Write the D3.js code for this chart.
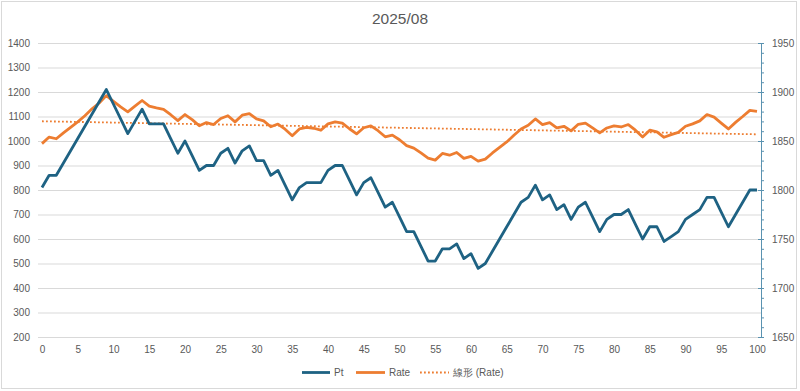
<!DOCTYPE html>
<html><head><meta charset="utf-8">
<script src="https://cdn.jsdelivr.net/npm/d3@7"></script>
<style>body{margin:0;background:#fff}svg{display:block}</style>
</head><body><svg id="c" width="800" height="391"></svg>
<script>
const title = "2025/08";
const xCategories = d3.range(0, 101);
const xTicks = [0,5,10,15,20,25,30,35,40,45,50,55,60,65,70,75,80,85,90,95,100];
const leftTicks = [200,300,400,500,600,700,800,900,1000,1100,1200,1300,1400];
const rightTicks = [1650,1700,1750,1800,1850,1900,1950];
const seriesNames = ["Pt", "Rate", "線形 (Rate)"];
const ptValues = [810,860,860,910,960,1010,1060,1110,1160,1210,1150,1090,1030,1080,1130,1070,1070,1070,1010,950,
  1000,940,880,900,900,950,970,910,960,980,920,920,860,880,820,760,810,830,830,830,
  880,900,900,840,780,830,850,790,730,750,690,630,630,570,510,510,560,560,580,520,
  540,480,500,550,600,650,700,750,770,820,760,780,720,740,680,730,750,690,630,680,
  700,700,720,660,600,650,650,590,610,630,680,700,720,770,770,710,650,700,750,800,800];
const rateValues = [1847.3,1854,1852.3,1858.3,1864,1869.5,1875.8,1882.8,1888.8,1896.3,1890.5,1884.8,1879.8,1885.5,1891.3,1885.5,1883.8,1882.3,1876.8,1870.8,
  1877,1871.8,1865.5,1868.8,1866.8,1873,1875.8,1869.5,1876.3,1878,1872.5,1870.5,1864.5,1867.3,1862,1855.3,1862.3,1864,1863,1861,
  1867.5,1869.5,1868.3,1862.5,1857.3,1863.5,1865.5,1860.5,1854.3,1856,1851.3,1845.3,1842.8,1837.8,1832.5,1830.5,1837.3,1835.5,1838.3,1832.3,
  1834.3,1829.5,1831.5,1837.8,1843.5,1849,1855.8,1862.3,1866,1872.5,1866.8,1868.8,1863.3,1865,1860.3,1867,1868.3,1863.3,1858.3,1863.3,
  1865.5,1864.3,1866.8,1861,1854,1861,1859.3,1853.8,1856.5,1858.8,1865,1867.5,1870.5,1877,1874.3,1868.3,1862.3,1869,1875,1881.3,1880.3];

const colPt = "#1e6283", colRate = "#ed7d31", txt = "#595959", grid = "#d9d9d9", axisBlue = "#5a92b0";
const font = "Liberation Sans, Arial, sans-serif";
const fmt = d3.format("d");

const svg = d3.select("#c");
svg.append("rect").attr("x",1.5).attr("y",1.5).attr("width",795).attr("height",387)
  .attr("fill","#fff").attr("stroke","#d9d9d9");

const x = d3.scaleLinear().domain([0,100]).range([42,757]);
const yL = d3.scaleLinear().domain([200,1400]).range([337,43]);
const yR = d3.scaleLinear().domain([1650,1950]).range([337,43]);

svg.append("text").attr("x",400).attr("y",24).attr("text-anchor","middle")
  .attr("font-family",font).attr("font-size",15.5).attr("fill",txt).text(title);

// gridlines + left labels
const gL = svg.append("g").attr("transform","translate(38,0)")
  .call(d3.axisLeft(yL).tickValues(leftTicks).tickFormat(fmt).tickSize(-723).tickPadding(8));
gL.select(".domain").remove();
gL.selectAll(".tick line").attr("stroke",grid).attr("stroke-width",1);
gL.selectAll(".tick text").attr("font-family",font).attr("font-size",10).attr("fill",txt);

// x axis labels
const gX = svg.append("g").attr("transform","translate(0,337)")
  .call(d3.axisBottom(x).tickValues(xTicks).tickFormat(fmt).tickSize(0).tickPadding(9));
gX.select(".domain").remove();
gX.selectAll(".tick text").attr("font-family",font).attr("font-size",10).attr("fill",txt);

// right axis
const minorTicks = d3.range(1650, 1951, 10);
const gRm = svg.append("g").attr("transform","translate(761,0)")
  .call(d3.axisRight(yR).tickValues(minorTicks).tickSize(3).tickFormat(""));
gRm.select(".domain").remove();
gRm.selectAll(".tick line").attr("stroke",axisBlue);
const gR = svg.append("g").attr("transform","translate(761,0)")
  .call(d3.axisRight(yR).tickValues(rightTicks).tickFormat(fmt).tickSizeOuter(0).tickSize(3).tickPadding(8));
gR.select(".domain").attr("stroke",axisBlue);
gR.selectAll(".tick line").attr("stroke",axisBlue).attr("x1",-3);
gR.selectAll(".tick text").attr("font-family",font).attr("font-size",10).attr("fill",txt);

// trendline (least squares of Rate)
const mx = d3.mean(xCategories), my = d3.mean(rateValues);
const slope = d3.sum(xCategories, (d,i) => (d-mx)*(rateValues[i]-my)) / d3.sum(xCategories, d => (d-mx)*(d-mx));
const icpt = my - slope*mx;
svg.append("line").attr("x1",x(0)).attr("x2",x(100))
  .attr("y1",yR(icpt)).attr("y2",yR(icpt+slope*100))
  .attr("stroke",colRate).attr("stroke-width",1.8).attr("stroke-dasharray","1.8,2.2");

const lineL = d3.line().x((d,i)=>x(xCategories[i])).y(d=>yL(d));
const lineR = d3.line().x((d,i)=>x(xCategories[i])).y(d=>yR(d));
svg.append("path").datum(rateValues).attr("d",lineR).attr("fill","none")
  .attr("stroke",colRate).attr("stroke-width",2.8).attr("stroke-linejoin","round");
svg.append("path").datum(ptValues).attr("d",lineL).attr("fill","none")
  .attr("stroke",colPt).attr("stroke-width",2.8).attr("stroke-linejoin","round");

// legend
const leg = svg.append("g").attr("font-family",font).attr("font-size",10).attr("fill",txt);
const legItems = [
  {name: seriesNames[0], x: 302, w: 28, color: colPt, dash: null, sw: 2.8},
  {name: seriesNames[1], x: 356, w: 29, color: colRate, dash: null, sw: 2.8},
  {name: seriesNames[2], x: 420, w: 29, color: colRate, dash: "1.8,2.2", sw: 1.8}
];
legItems.forEach(it => {
  leg.append("line").attr("x1",it.x).attr("x2",it.x+it.w).attr("y1",372.5).attr("y2",372.5)
    .attr("stroke",it.color).attr("stroke-width",it.sw).attr("stroke-dasharray",it.dash);
  leg.append("text").attr("x",it.x+it.w+4).attr("y",376).text(it.name);
});
</script></body></html>
